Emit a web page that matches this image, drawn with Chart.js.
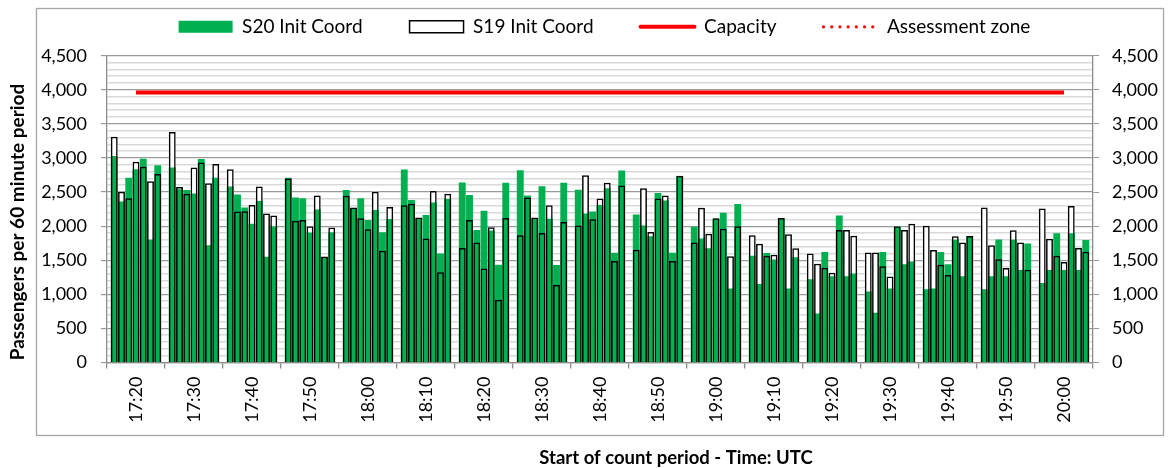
<!DOCTYPE html>
<html>
<head>
<meta charset="utf-8">
<script src="https://cdn.jsdelivr.net/npm/chart.js@4.4.1/dist/chart.umd.min.js"></script>
<style>
html,body{margin:0;padding:0;background:#fff;}
#wrap{width:1169px;height:468px;position:relative;}
</style>
</head>
<body>
<div id="wrap"><canvas id="c" width="1169" height="468"></canvas></div>
<script>
// ---- DATA ----
const groupLabels = ['17:20','17:30','17:40','17:50','18:00','18:10','18:20','18:30','18:40',
                     '18:50','19:00','19:10','19:20','19:30','19:40','19:50','20:00'];
const barsPerGroup = 7;
const s20InitCoord = [
  3030,2360,2710,2835,2990,1805,2895,
  2860,2540,2530,2480,2985,1720,2710,
  2580,2465,2275,2035,2370,1550,2000,
  2710,2420,2410,1905,2245,1545,1910,
  2530,2260,2410,2090,2235,1910,2105,
  2830,2385,2120,2165,2345,1600,2400,
  2640,2455,1945,2225,1935,1435,2635,
  2820,2450,2120,2585,2110,1430,2635,
  2535,2185,2215,2310,2555,1610,2815,
  2170,2010,1850,2485,2375,1610,2735,
  1990,1820,1675,2110,2195,1085,2325,
  1565,1150,1605,1510,2115,1085,1545,
  1220, 720,1620,1265,2155,1265,1305,
  1040, 730,1620,1085,1990,1440,1480,
  1075,1085,1620,1440,1805,1265,1850,
  1075,1265,1805,1265,1805,1355,1745,
  1165,1355,1895,1355,1895,1355,1795
];
const s19InitCoord = [
  3310,2505,2410,2945,2870,2660,2765,
  3380,2575,2475,2860,2935,2630,2910,
  2835,2215,2220,2310,2580,2185,2155,
  2700,2080,2090,2000,2450,1555,1980,
  2445,2275,2115,1955,2505,1640,2280,
  2305,2330,2125,1820,2515,1325,2475,
  1680,2090,1760,1380,1985, 920,2120,
  1865,2420,2125,1900,2305,1135,2060,
  2010,2745,2100,2405,2635,1490,2595,
  1655,2555,1915,2405,2450,1490,2740,
  1760,2270,1890,2115,1960,1560,2000,
  1865,1740,1565,1580,2120,1880,1675,
  1600,1450,1390,1315,1945,1945,1860,
  1615,1615,1410,1260,2000,1945,2035,
  2005,1650,1435,1285,1850,1760,1855,
  2275,1720,1515,1385,1940,1760,1360,
  2260,1815,1565,1475,2295,1680,1625
];
const capacityValue = 3960;
const assessmentZone = [];
const yMin = 0, yMax = 4500, yMajor = 500, yMinor = 100;
const xTitle = 'Start of count period - Time: UTC';
const yTitle = 'Passengers per 60 minute period';

// ---- build category table (one empty slot between groups) ----
const slot = barsPerGroup + 1;
const labels = [], s20Data = [], s19Data = [], capData = [];
const firstCenter = Math.floor(barsPerGroup / 2) + 1;
const lastCenter = (groupLabels.length - 1) * slot + firstCenter;
for (let g = 0; g < groupLabels.length; g++) {
  labels.push(''); s20Data.push(null); s19Data.push(null);
  for (let i = 0; i < barsPerGroup; i++) {
    labels.push(i === firstCenter - 1 ? groupLabels[g] : '');
    s20Data.push(s20InitCoord[g * barsPerGroup + i]);
    s19Data.push(s19InitCoord[g * barsPerGroup + i]);
  }
}
labels.push(''); s20Data.push(null); s19Data.push(null);
for (let i = 0; i < labels.length; i++) capData.push(i >= firstCenter && i <= lastCenter ? capacityValue : null);

// ---- styles ----
const GREEN = '#00B050', RED = '#FF0000', AXIS = '#8c8c8c', MAJOR = '#9a9a9a', MINOR = '#d9d9d9';
const FONT = 'Lato';
Chart.defaults.font.family = FONT;
Chart.defaults.color = '#000';

const barCommon = {grouped: false, barPercentage: 0.95, categoryPercentage: 1, borderSkipped: 'start'};

const frameAndTitles = {
  id: 'frameAndTitles',
  afterDraw(chart) {
    const c = chart.ctx;
    c.save();
    c.strokeStyle = '#a6a6a6';
    c.lineWidth = 1.3;
    c.strokeRect(36.5, 8.5, 1127, 427);
    c.fillStyle = '#000';
    c.textAlign = 'center';
    c.textBaseline = 'middle';
    c.font = 'bold 18.5px ' + FONT;
    c.fillText(xTitle, 676, 458);
    c.translate(18, 222);
    c.rotate(-Math.PI / 2);
    c.font = 'bold 19px ' + FONT;
    c.fillText(yTitle, 0, 0);
    c.restore();
  }
};

const yTicksCb = v => (v % yMajor === 0 ? v.toLocaleString('en-US') : '');
const isMajor = ctx => ctx.tick && ctx.tick.value % yMajor === 0;

new Chart(document.getElementById('c'), {
  type: 'bar',
  data: {
    labels,
    datasets: [
      Object.assign({label: 'S19 Init Coord', data: s19Data, backgroundColor: 'rgba(0,0,0,0)',
        borderColor: '#000', borderWidth: 1.5, order: 1}, barCommon),
      Object.assign({label: 'S20 Init Coord', data: s20Data, backgroundColor: GREEN,
        borderWidth: 0, order: 2}, barCommon),
      Object.assign({label: 'S19 fill', data: s19Data, backgroundColor: '#fff',
        borderWidth: 0, order: 3}, barCommon),
      {type: 'line', label: 'Capacity', data: capData, borderColor: RED, borderWidth: 4,
        pointRadius: 0, order: 0, spanGaps: false},
      {type: 'line', label: 'Assessment zone', data: assessmentZone, borderColor: RED,
        borderWidth: 3, borderDash: [1, 7], pointRadius: 0, order: 0}
    ]
  },
  options: {
    responsive: false,
    animation: false,
    devicePixelRatio: 1,
    layout: {padding: {top: -29.7, left: 40, right: 0, bottom: 0}},
    plugins: {
      tooltip: {enabled: false},
      legend: {
        position: 'top',
        fullSize: true,
        labels: {
          usePointStyle: true,
          pointStyleWidth: 54,
          boxHeight: 12,
          padding: 47,
          color: '#000',
          font: {size: 19, family: FONT},
          generateLabels: () => [
            {text: 'S20 Init Coord', fillStyle: GREEN, strokeStyle: GREEN, lineWidth: 0, pointStyle: 'rect', datasetIndex: 1},
            {text: 'S19 Init Coord', fillStyle: '#fff', strokeStyle: '#000', lineWidth: 1.5, pointStyle: 'rect', datasetIndex: 0},
            {text: 'Capacity', fillStyle: RED, strokeStyle: RED, lineWidth: 4, lineCap: 'round', pointStyle: 'line', datasetIndex: 3},
            {text: 'Assessment zone', fillStyle: RED, strokeStyle: RED, lineWidth: 3.2, lineCap: 'round', lineDash: [0.01, 8.2], pointStyle: 'line', datasetIndex: 4}
          ]
        }
      }
    },
    scales: {
      x: {
        type: 'category',
        offset: false,
        grid: {display: true, offset: false, drawOnChartArea: false, drawTicks: true, tickLength: 6,
          color: ctx => (ctx.index % slot === 0 ? AXIS : 'rgba(0,0,0,0)'),
          tickColor: ctx => (ctx.index % slot === 0 ? AXIS : 'rgba(0,0,0,0)'), lineWidth: 1.3},
        border: {display: true, color: AXIS, width: 1.3},
        ticks: {autoSkip: false, maxRotation: 90, minRotation: 90, padding: 8, color: '#000',
          font: {size: 18, family: FONT}},
        afterFit: s => { s.height = 105.5; }
      },
      xTop: {
        type: 'category',
        position: 'top',
        display: true,
        grid: {display: false},
        border: {display: false},
        ticks: {display: false},
        afterFit: s => { s.height = 9.4; }
      },
      y: {
        position: 'left',
        min: yMin, max: yMax,
        ticks: {stepSize: yMinor, autoSkip: false, callback: yTicksCb, padding: 14, color: '#000',
          font: {size: 18, family: FONT}},
        grid: {
          color: ctx => (isMajor(ctx) ? MAJOR : MINOR),
          lineWidth: ctx => (isMajor(ctx) ? 1.2 : 1.6),
          tickColor: ctx => (isMajor(ctx) ? MAJOR : 'rgba(0,0,0,0)'),
          tickLength: 6
        },
        border: {display: true, color: AXIS, width: 1.3},
        afterFit: s => { s.width = 67; }
      },
      y2: {
        position: 'right',
        min: yMin, max: yMax,
        ticks: {stepSize: yMinor, autoSkip: false, callback: yTicksCb, padding: 13, color: '#000',
          font: {size: 18, family: FONT}},
        grid: {drawOnChartArea: false, tickLength: 6,
          color: ctx => (isMajor(ctx) ? MAJOR : 'rgba(0,0,0,0)'),
          tickColor: ctx => (isMajor(ctx) ? MAJOR : 'rgba(0,0,0,0)')},
        border: {display: true, color: AXIS, width: 1.3},
        afterFit: s => { s.width = 76; }
      }
    }
  },
  plugins: [frameAndTitles]
});
</script>
</body>
</html>
